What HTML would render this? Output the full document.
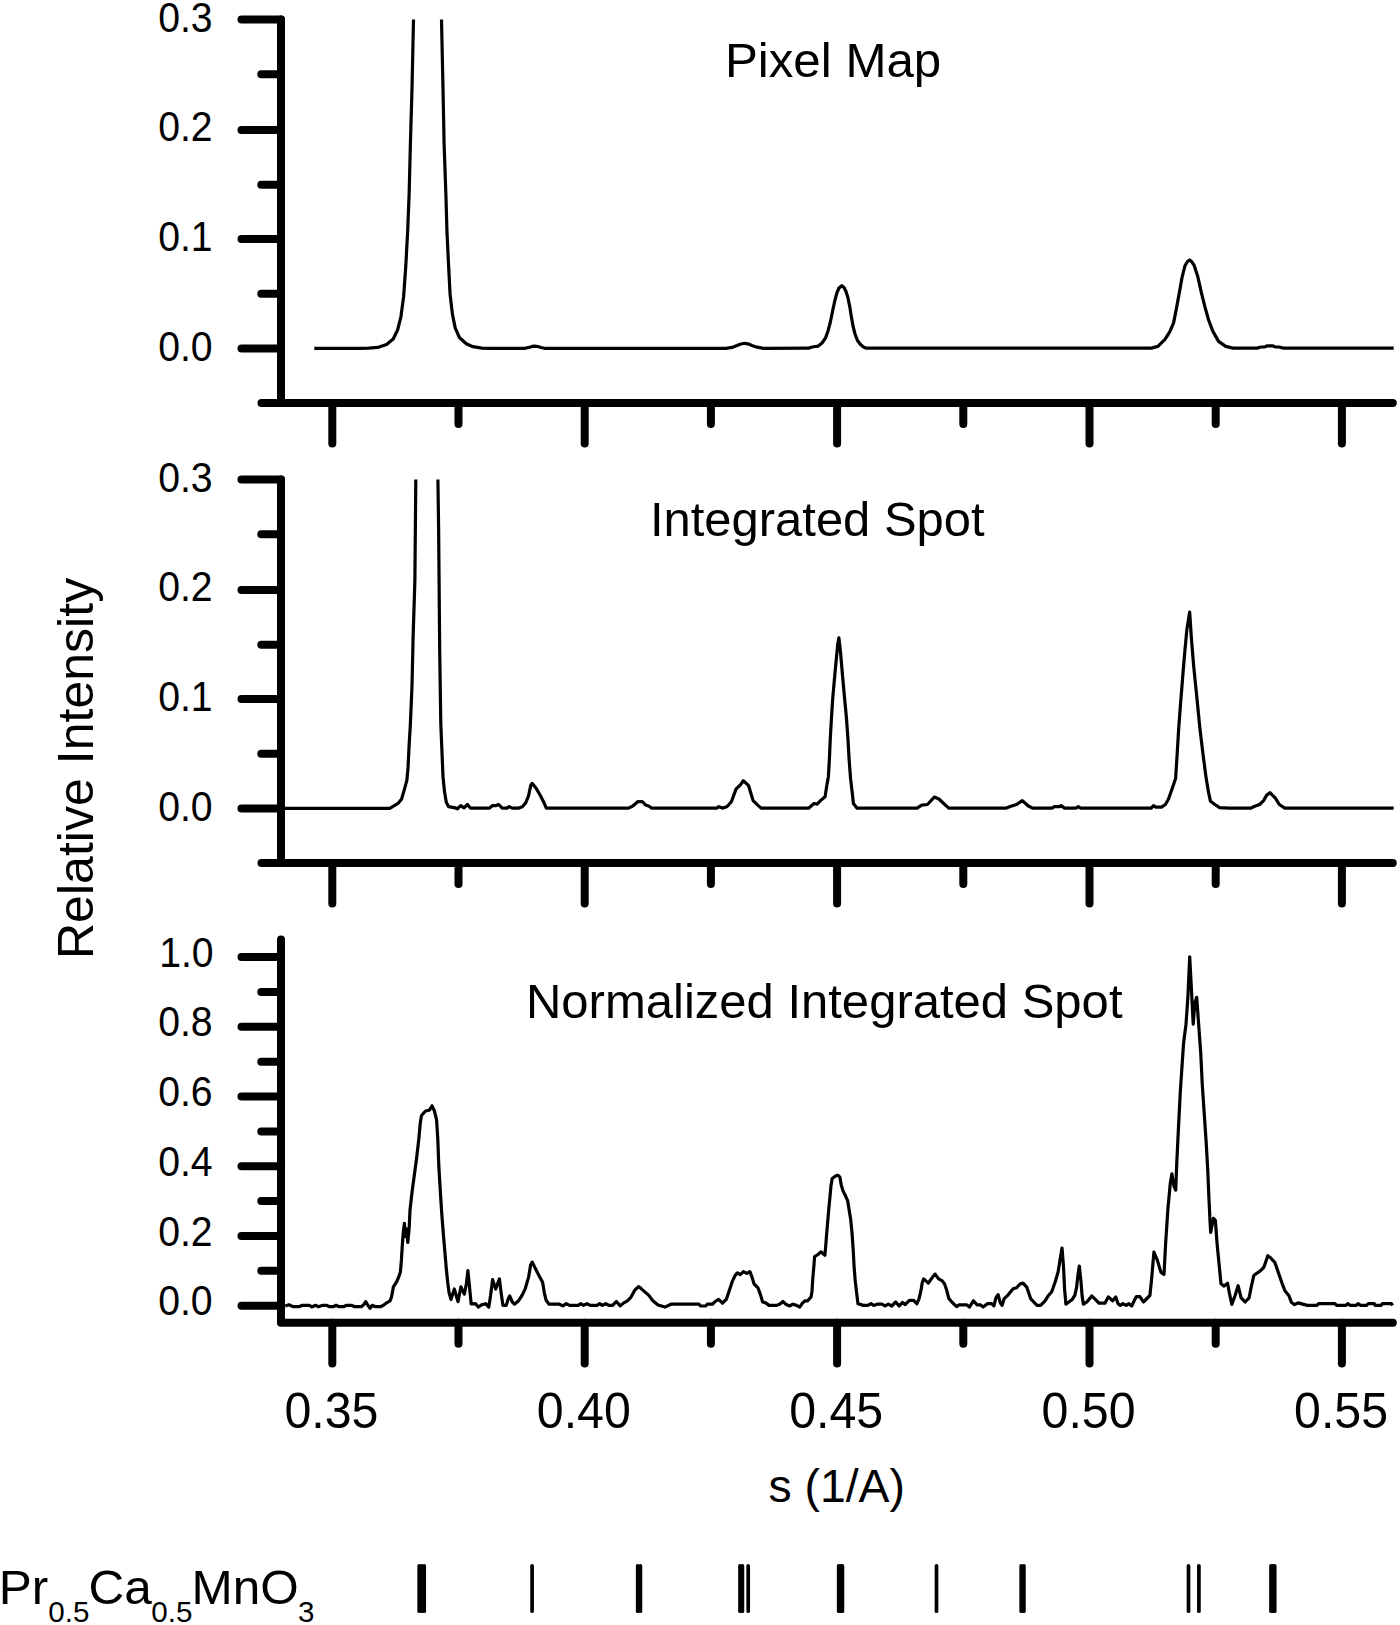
<!DOCTYPE html>
<html lang="en"><head><meta charset="utf-8"><title>Relative Intensity vs s (1/A)</title>
<style>html,body{margin:0;padding:0;background:#fff}svg{display:block}text{font-family:"Liberation Sans",Arial,Helvetica,sans-serif;fill:#000}</style>
</head><body>
<svg width="1400" height="1625" viewBox="0 0 1400 1625">
<rect width="1400" height="1625" fill="#fff"/>
<g fill="none" stroke="#000" stroke-width="8.0" stroke-linecap="round" stroke-linejoin="round">
<path d="M281.0 19.44 V402.9"/>
<path d="M261.5 402.9 H1392.8"/>
<path d="M241.5 19.44 H281.0"/>
<path d="M261.3 74.28 H281.0"/>
<path d="M241.5 129.91 H281.0"/>
<path d="M261.3 184.67 H281.0"/>
<path d="M241.5 239.07 H281.0"/>
<path d="M261.3 293.76 H281.0"/>
<path d="M241.5 348.40 H281.0"/>
<path d="M332.3 402.9 V443.6"/>
<path d="M458.5 402.9 V423.9"/>
<path d="M584.7 402.9 V443.6"/>
<path d="M710.9 402.9 V423.9"/>
<path d="M837.1 402.9 V443.6"/>
<path d="M963.3 402.9 V423.9"/>
<path d="M1089.5 402.9 V443.6"/>
<path d="M1215.7 402.9 V423.9"/>
<path d="M1341.9 402.9 V443.6"/>
<path d="M281.0 479.44 V862.9"/>
<path d="M261.5 862.9 H1392.8"/>
<path d="M241.5 479.44 H281.0"/>
<path d="M261.3 534.28 H281.0"/>
<path d="M241.5 589.91 H281.0"/>
<path d="M261.3 644.67 H281.0"/>
<path d="M241.5 699.07 H281.0"/>
<path d="M261.3 753.76 H281.0"/>
<path d="M241.5 808.40 H281.0"/>
<path d="M332.3 862.9 V903.6"/>
<path d="M458.5 862.9 V883.9"/>
<path d="M584.7 862.9 V903.6"/>
<path d="M710.9 862.9 V883.9"/>
<path d="M837.1 862.9 V903.6"/>
<path d="M963.3 862.9 V883.9"/>
<path d="M1089.5 862.9 V903.6"/>
<path d="M1215.7 862.9 V883.9"/>
<path d="M1341.9 862.9 V903.6"/>
<path d="M281.0 939.5 V1322.7 H1392.8"/>
<path d="M241.5 957.1 H281.0"/>
<path d="M261.3 992.0 H281.0"/>
<path d="M241.5 1026.8 H281.0"/>
<path d="M261.3 1061.7 H281.0"/>
<path d="M241.5 1096.5 H281.0"/>
<path d="M261.3 1131.4 H281.0"/>
<path d="M241.5 1166.3 H281.0"/>
<path d="M261.3 1201.1 H281.0"/>
<path d="M241.5 1236.0 H281.0"/>
<path d="M261.3 1270.8 H281.0"/>
<path d="M241.5 1305.7 H281.0"/>
<path d="M332.3 1322.7 V1363.4"/>
<path d="M458.5 1322.7 V1343.7"/>
<path d="M584.7 1322.7 V1363.4"/>
<path d="M710.9 1322.7 V1343.7"/>
<path d="M837.1 1322.7 V1363.4"/>
<path d="M963.3 1322.7 V1343.7"/>
<path d="M1089.5 1322.7 V1363.4"/>
<path d="M1215.7 1322.7 V1343.7"/>
<path d="M1341.9 1322.7 V1363.4"/>
</g>
<g fill="none" stroke="#000" stroke-width="3.2" stroke-linejoin="round" stroke-linecap="butt">
<path d="M314.3 348.3 L360.0 348.3 L368.8 348.2 L377.7 347.4 L386.5 344.5 L393.2 339.0 L397.6 330.0 L400.9 316.8 L403.6 296.9 L405.8 265.8 L407.6 232.6 L409.1 195.0 L410.4 144.0 L412.0 88.6 L413.5 19.5 M441.5 19.5 L443.0 88.6 L444.1 144.0 L445.9 195.0 L447.0 232.6 L448.6 265.8 L450.1 294.6 L452.5 314.6 L455.2 327.9 L459.6 337.8 L466.3 343.8 L472.9 346.7 L481.8 348.2 L490.0 348.3 L525.0 348.3 L529.0 347.4 L532.0 346.4 L534.6 346.2 L538.0 346.5 L541.0 347.5 L544.5 348.3 L726.0 348.3 L732.0 347.4 L737.0 345.6 L741.0 344.0 L744.6 343.3 L748.0 343.8 L752.0 345.4 L757.0 347.2 L763.5 348.3 L808.6 348.2 L812.0 347.0 L818.0 346.2 L822.0 343.0 L825.5 338.0 L828.0 331.0 L830.0 323.5 L831.4 317.0 L833.0 309.0 L835.0 300.0 L837.0 292.5 L839.0 288.0 L841.8 285.7 L844.0 287.5 L846.0 291.5 L848.0 298.0 L850.0 308.0 L851.4 317.0 L853.0 326.0 L855.0 334.0 L857.5 340.5 L860.5 344.5 L863.5 347.0 L866.4 348.2 L1151.4 348.1 L1157.9 346.4 L1165.0 339.3 L1170.0 331.4 L1173.6 322.9 L1176.4 308.6 L1179.3 292.9 L1182.1 277.1 L1185.0 265.7 L1187.5 261.5 L1189.6 260.0 L1191.8 261.8 L1194.3 265.7 L1197.9 277.1 L1201.4 292.9 L1205.0 307.1 L1208.6 320.0 L1212.9 331.4 L1218.6 341.4 L1225.7 346.4 L1232.9 348.1 L1257.0 348.1 L1261.0 347.0 L1265.0 346.8 L1267.5 345.8 L1272.5 345.8 L1275.0 346.8 L1279.0 347.0 L1283.6 348.1 L1393.7 348.2"/>
<path d="M285.0 808.3 L389.8 808.3 L391.4 807.4 L398.0 803.4 L401.6 799.0 L404.2 790.1 L406.9 780.1 L408.0 767.9 L409.1 745.8 L410.4 723.6 L412.0 686.0 L413.1 637.2 L414.9 579.6 L415.8 479.5 M437.9 479.5 L438.6 526.5 L439.7 650.5 L440.8 723.6 L441.9 750.2 L443.0 776.8 L444.6 792.3 L446.3 802.3 L448.6 806.7 L455.2 807.8 L457.4 808.9 L460.7 805.6 L464.1 807.8 L467.4 804.5 L470.7 808.2 L488.4 808.2 L489.6 808.1 L492.6 805.6 L496.0 805.6 L498.7 804.5 L502.2 808.1 L507.0 808.1 L509.3 806.7 L512.0 808.1 L518.9 808.1 L522.3 806.7 L525.7 802.9 L528.5 796.0 L530.7 785.7 L532.1 783.4 L536.0 788.0 L540.6 796.0 L543.5 801.7 L546.3 808.1 L628.6 808.1 L633.1 805.8 L637.7 801.7 L642.3 801.7 L645.7 805.1 L649.1 806.3 L651.4 808.1 L716.6 808.1 L718.9 806.7 L722.3 808.1 L726.9 806.7 L731.4 801.7 L736.0 789.1 L740.6 784.6 L743.3 780.7 L748.6 785.7 L753.1 800.6 L757.7 805.1 L761.1 808.1 L808.5 808.2 L814.0 803.5 L817.1 804.1 L820.8 800.4 L825.1 796.7 L826.9 785.0 L828.4 776.4 L829.4 759.2 L830.3 738.2 L831.5 717.3 L832.7 698.8 L834.0 684.0 L835.2 670.5 L836.4 658.2 L837.7 644.6 L838.9 637.9 L840.5 652.0 L842.3 673.0 L844.4 696.4 L846.4 717.3 L847.9 738.2 L849.1 759.2 L850.6 778.9 L852.2 792.4 L853.4 803.5 L857.1 808.2 L917.1 808.1 L921.7 805.1 L927.4 804.5 L934.3 797.1 L938.9 799.0 L948.7 808.1 L1006.3 808.1 L1010.9 806.3 L1016.6 804.5 L1022.3 800.6 L1028.0 805.8 L1032.6 808.1 L1052.0 808.1 L1054.3 806.7 L1058.9 806.7 L1061.1 805.6 L1064.6 808.1 L1076.0 808.1 L1078.3 806.7 L1080.6 808.1 L1151.2 808.1 L1153.6 805.6 L1155.9 807.2 L1161.4 807.2 L1165.4 804.5 L1168.5 799.0 L1171.6 790.3 L1175.6 778.6 L1177.1 755.0 L1178.7 728.3 L1180.6 703.1 L1182.6 678.0 L1184.7 652.9 L1186.9 629.3 L1189.7 612.0 L1191.3 637.1 L1193.6 665.4 L1196.8 696.9 L1199.9 728.3 L1203.1 755.0 L1206.2 778.6 L1208.6 792.7 L1210.5 801.3 L1214.9 804.5 L1219.6 807.6 L1229.0 808.1 L1251.0 808.1 L1254.1 806.5 L1259.6 804.5 L1263.6 800.6 L1266.7 795.1 L1269.9 792.7 L1275.4 798.2 L1279.3 804.5 L1284.8 808.1 L1393.7 808.2"/>
<path d="M285.2 1306.0 L288.9 1304.8 L293.3 1306.7 L299.2 1306.7 L302.2 1305.3 L309.5 1305.3 L311.8 1307.0 L315.5 1305.3 L318.4 1306.7 L322.8 1305.3 L326.5 1305.3 L329.5 1306.7 L333.2 1306.7 L336.1 1305.3 L339.1 1306.7 L343.5 1306.7 L346.5 1305.3 L351.6 1305.3 L354.6 1306.7 L361.2 1306.7 L363.9 1304.5 L365.7 1301.6 L367.9 1305.3 L370.1 1308.2 L372.3 1305.3 L375.3 1306.7 L380.4 1306.7 L383.4 1305.3 L386.4 1303.0 L390.0 1300.8 L391.5 1297.1 L393.4 1286.8 L396.7 1281.6 L398.9 1276.5 L400.4 1272.0 L401.4 1260.2 L402.3 1245.4 L403.3 1232.1 L404.4 1223.3 L405.6 1236.6 L406.7 1229.2 L407.8 1242.5 L409.2 1227.7 L410.0 1210.0 L412.2 1190.8 L414.4 1174.5 L416.6 1158.3 L418.8 1139.1 L420.3 1122.8 L421.5 1115.5 L425.5 1111.0 L429.2 1110.3 L432.1 1105.8 L434.4 1111.0 L436.6 1119.9 L437.8 1139.1 L438.8 1165.7 L440.3 1190.8 L441.7 1212.9 L443.2 1232.1 L444.7 1249.9 L446.2 1267.6 L447.7 1282.4 L449.1 1292.7 L451.0 1299.4 L454.3 1289.0 L458.0 1301.6 L460.9 1286.8 L464.3 1294.2 L466.4 1283.8 L467.9 1270.5 L469.5 1286.8 L471.2 1304.0 L475.4 1303.7 L478.5 1307.1 L481.4 1304.9 L485.7 1303.7 L488.8 1307.1 L490.5 1296.0 L492.6 1279.7 L495.7 1289.1 L499.4 1278.9 L501.1 1292.6 L502.9 1305.4 L506.3 1305.4 L508.0 1299.4 L509.7 1296.0 L512.3 1302.0 L514.5 1304.2 L518.3 1301.1 L521.7 1296.0 L525.1 1289.1 L528.6 1277.1 L530.6 1265.1 L532.3 1262.1 L535.4 1268.6 L538.9 1275.4 L542.6 1282.3 L544.3 1292.6 L546.1 1300.3 L549.1 1304.2 L559.4 1304.2 L562.9 1305.9 L566.3 1303.7 L569.7 1305.4 L578.3 1305.4 L580.9 1303.7 L583.4 1305.4 L586.9 1303.7 L590.3 1305.4 L597.1 1305.4 L599.7 1303.7 L602.3 1305.4 L605.7 1303.7 L609.1 1305.4 L612.6 1305.4 L616.3 1301.5 L620.3 1305.9 L623.7 1302.9 L627.1 1301.1 L630.6 1297.7 L634.9 1290.0 L638.6 1286.6 L641.7 1289.1 L648.6 1295.1 L652.9 1300.8 L658.0 1304.9 L664.9 1307.1 L670.9 1304.2 L698.9 1304.2 L700.6 1306.0 L705.7 1306.0 L707.4 1304.2 L712.6 1304.2 L715.1 1301.5 L718.6 1299.4 L722.5 1303.2 L726.3 1299.4 L728.9 1291.7 L732.3 1281.4 L735.2 1275.4 L737.4 1272.9 L740.3 1274.6 L743.4 1271.7 L746.9 1273.4 L749.9 1271.7 L752.0 1277.1 L754.1 1284.0 L758.0 1287.8 L760.6 1295.1 L762.6 1302.0 L765.7 1302.9 L769.1 1305.4 L776.9 1305.4 L780.3 1303.7 L782.9 1301.5 L786.3 1304.6 L789.7 1306.0 L792.8 1304.2 L796.6 1305.4 L799.7 1307.1 L802.6 1302.9 L805.1 1300.8 L807.7 1300.8 L811.1 1296.9 L812.0 1290.9 L812.9 1277.1 L814.1 1263.4 L814.6 1256.6 L818.0 1254.5 L820.9 1251.8 L824.9 1255.2 L825.7 1246.3 L826.6 1234.3 L827.8 1220.6 L828.8 1208.6 L830.0 1196.6 L830.9 1186.3 L832.2 1178.6 L835.2 1176.3 L837.7 1175.1 L839.8 1176.9 L841.2 1184.6 L842.9 1190.6 L845.4 1195.7 L847.7 1200.9 L848.9 1208.6 L850.6 1218.9 L852.0 1232.6 L853.2 1249.7 L854.0 1265.1 L855.2 1280.6 L856.6 1292.6 L858.0 1303.7 L863.4 1305.4 L867.7 1305.4 L871.1 1303.7 L873.7 1305.4 L877.2 1304.2 L882.3 1304.2 L884.9 1306.0 L888.3 1304.2 L891.7 1306.0 L895.7 1302.0 L899.1 1306.0 L902.6 1302.5 L905.1 1304.6 L909.4 1300.3 L913.7 1300.3 L916.8 1303.7 L918.9 1299.4 L920.9 1290.9 L922.3 1282.3 L923.7 1278.9 L928.3 1283.1 L932.6 1277.1 L935.1 1274.1 L938.6 1278.9 L942.0 1280.6 L944.6 1284.0 L946.6 1290.0 L948.9 1298.6 L952.3 1302.5 L956.6 1306.6 L959.1 1304.9 L966.9 1304.9 L969.4 1307.1 L973.4 1300.8 L977.1 1304.9 L980.6 1304.9 L983.1 1307.1 L987.4 1303.7 L991.7 1303.7 L993.9 1305.9 L996.0 1297.7 L998.1 1294.6 L1000.3 1302.9 L1002.0 1305.4 L1004.2 1298.6 L1008.0 1295.1 L1013.1 1288.8 L1016.6 1287.8 L1020.0 1284.0 L1023.1 1283.1 L1026.9 1287.4 L1028.6 1292.6 L1030.6 1298.6 L1034.6 1302.9 L1037.1 1305.4 L1040.6 1305.4 L1044.9 1301.1 L1048.3 1295.7 L1051.7 1291.7 L1055.1 1282.3 L1058.1 1272.0 L1060.3 1258.3 L1062.0 1248.0 L1063.4 1265.1 L1064.6 1289.1 L1065.9 1304.2 L1068.9 1302.0 L1072.3 1299.4 L1074.9 1295.1 L1076.6 1287.4 L1077.9 1275.4 L1079.3 1266.0 L1080.9 1280.6 L1082.1 1296.0 L1083.4 1304.2 L1086.9 1302.0 L1091.7 1296.0 L1095.4 1299.4 L1098.9 1303.2 L1104.9 1303.2 L1108.3 1296.9 L1112.6 1300.8 L1115.7 1296.9 L1118.1 1303.7 L1120.3 1305.4 L1122.9 1303.7 L1126.3 1305.4 L1128.9 1303.7 L1131.7 1306.0 L1134.5 1300.1 L1136.4 1296.6 L1139.9 1296.6 L1143.4 1302.0 L1149.9 1295.5 L1151.6 1279.1 L1153.9 1252.2 L1157.4 1260.4 L1160.9 1272.1 L1164.0 1274.4 L1165.6 1244.0 L1167.9 1208.9 L1170.3 1183.2 L1171.9 1173.9 L1173.8 1185.6 L1175.7 1190.2 L1176.8 1162.2 L1178.5 1127.1 L1180.3 1092.0 L1182.0 1066.3 L1183.6 1042.9 L1186.0 1024.2 L1187.8 998.5 L1189.7 956.8 L1191.3 986.8 L1193.2 1024.2 L1194.8 1003.1 L1196.7 997.3 L1198.3 1019.5 L1200.7 1052.3 L1202.3 1085.0 L1204.2 1113.1 L1206.1 1141.1 L1207.7 1169.2 L1208.9 1197.2 L1210.0 1220.6 L1210.7 1232.3 L1213.5 1218.3 L1215.4 1220.6 L1217.1 1244.0 L1219.4 1267.4 L1221.0 1283.8 L1224.1 1286.1 L1227.6 1283.3 L1229.4 1293.1 L1231.8 1304.4 L1235.1 1295.5 L1238.1 1285.7 L1241.1 1297.8 L1245.1 1302.0 L1249.1 1297.8 L1251.4 1286.1 L1253.8 1275.6 L1256.8 1273.3 L1260.3 1270.9 L1263.8 1267.4 L1266.2 1260.4 L1267.8 1255.7 L1270.8 1258.0 L1274.8 1262.3 L1279.0 1274.4 L1281.8 1282.6 L1284.9 1290.8 L1288.8 1295.5 L1291.5 1302.5 L1294.6 1304.6 L1298.0 1302.9 L1307.4 1305.4 L1316.9 1305.4 L1318.6 1303.7 L1334.9 1303.7 L1336.6 1305.4 L1346.0 1305.4 L1347.7 1303.7 L1350.3 1305.4 L1356.3 1305.4 L1358.0 1303.7 L1360.6 1305.4 L1366.6 1305.4 L1368.3 1303.7 L1374.3 1303.7 L1375.1 1305.4 L1381.1 1305.4 L1382.4 1303.7 L1391.4 1303.7 L1392.7 1305.4"/>
</g>
<g fill="none" stroke="#000" stroke-width="3.7" stroke-linecap="round">
<path d="M419.2 1565.8 V1611.2"/>
<path d="M421.7 1565.8 V1611.2"/>
<path d="M424.2 1565.8 V1611.2"/>
<path d="M532.1 1565.8 V1611.2"/>
<path d="M637.7 1565.8 V1611.2"/>
<path d="M640.4 1565.8 V1611.2"/>
<path d="M740.0 1565.8 V1611.2"/>
<path d="M742.4 1565.8 V1611.2"/>
<path d="M748.2 1565.8 V1611.2"/>
<path d="M838.7 1565.8 V1611.2"/>
<path d="M840.5 1565.8 V1611.2"/>
<path d="M842.4 1565.8 V1611.2"/>
<path d="M936.5 1565.8 V1611.2"/>
<path d="M1021.2 1565.8 V1611.2"/>
<path d="M1023.9 1565.8 V1611.2"/>
<path d="M1188.5 1565.8 V1611.2"/>
<path d="M1198.9 1565.8 V1611.2"/>
<path d="M1271.0 1565.8 V1611.2"/>
<path d="M1272.8 1565.8 V1611.2"/>
<path d="M1274.7 1565.8 V1611.2"/>
</g>
<text transform="translate(158.13 32.15) scale(1.0000 1.1010)" font-size="39.20">0.3</text>
<text transform="translate(158.13 141.45) scale(1.0000 1.1010)" font-size="39.20">0.2</text>
<text transform="translate(158.13 250.65) scale(1.0000 1.1010)" font-size="39.20">0.1</text>
<text transform="translate(158.13 360.65) scale(1.0000 1.1010)" font-size="39.20">0.0</text>
<text transform="translate(158.13 492.15) scale(1.0000 1.1010)" font-size="39.20">0.3</text>
<text transform="translate(158.13 601.45) scale(1.0000 1.1010)" font-size="39.20">0.2</text>
<text transform="translate(158.13 710.65) scale(1.0000 1.1010)" font-size="39.20">0.1</text>
<text transform="translate(158.13 820.65) scale(1.0000 1.1010)" font-size="39.20">0.0</text>
<text transform="translate(159.13 966.75) scale(1.0000 1.1010)" font-size="39.20">1.0</text>
<text transform="translate(158.13 1036.47) scale(1.0000 1.1010)" font-size="39.20">0.8</text>
<text transform="translate(158.13 1106.19) scale(1.0000 1.1010)" font-size="39.20">0.6</text>
<text transform="translate(158.13 1175.91) scale(1.0000 1.1010)" font-size="39.20">0.4</text>
<text transform="translate(158.13 1245.63) scale(1.0000 1.1010)" font-size="39.20">0.2</text>
<text transform="translate(158.13 1315.35) scale(1.0000 1.1010)" font-size="39.20">0.0</text>
<text transform="translate(284.43 1428.30) scale(1.0000 1.0380)" font-size="48.30">0.35</text>
<text transform="translate(536.77 1428.30) scale(1.0000 1.0380)" font-size="48.30">0.40</text>
<text transform="translate(789.23 1428.30) scale(1.0000 1.0380)" font-size="48.30">0.45</text>
<text transform="translate(1041.57 1428.30) scale(1.0000 1.0380)" font-size="48.30">0.50</text>
<text transform="translate(1294.03 1428.30) scale(1.0000 1.0380)" font-size="48.30">0.55</text>
<text transform="translate(724.93 76.80) scale(1.0000 0.9800)" font-size="49.28">Pixel Map</text>
<text transform="translate(649.97 535.75) scale(1.0000 0.9800)" font-size="48.94">Integrated Spot</text>
<text transform="translate(525.96 1017.60) scale(1.0000 0.9800)" font-size="49.02">Normalized Integrated Spot</text>
<text x="768.43" y="1502.10" font-size="46.34">s (1/A)</text>
<text transform="translate(93.2 959.03) rotate(-90)" font-size="50.07">Relative Intensity</text>
<text transform="translate(-1.18 1604.30) scale(1.0000 0.9650)" font-size="49.50">Pr</text>
<text transform="translate(48.22 1622.00) scale(1.0000 1.0200)" font-size="29.60">0.5</text>
<text transform="translate(88.43 1604.30) scale(1.0000 0.9650)" font-size="49.50">Ca</text>
<text transform="translate(151.32 1622.00) scale(1.0000 1.0200)" font-size="29.60">0.5</text>
<text transform="translate(191.52 1604.30) scale(1.0000 0.9650)" font-size="49.50">MnO</text>
<text transform="translate(297.99 1622.00) scale(1.0000 1.0200)" font-size="29.60">3</text>
</svg></body></html>
